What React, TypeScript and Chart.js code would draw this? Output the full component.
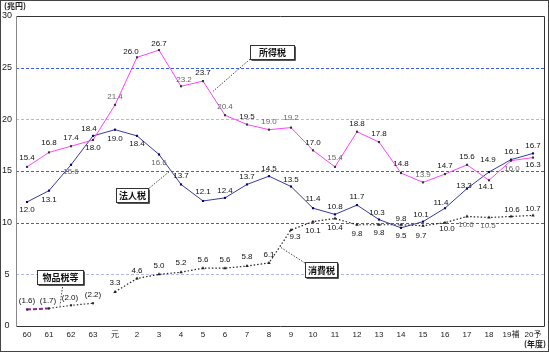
import React, { useEffect, useRef } from "react";
import { Chart, registerables } from "chart.js";

Chart.register(...registerables);

// ---- data ----
const years = ["60", "61", "62", "63", "元", "2", "3", "4", "5", "6", "7", "8", "9", "10", "11", "12", "13", "14", "15", "16", "17", "18", "19補", "20予"];
const incomeTax = [15.4, 16.8, 17.4, 18.0, 21.4, 26.0, 26.7, 23.2, 23.7, 20.4, 19.5, 19.0, 19.2, 17.0, 15.4, 18.8, 17.8, 14.8, 13.9, 14.7, 15.6, 14.1, 16.0, 16.3];
const corporateTax = [12.0, 13.1, 15.6, 18.4, 19.0, 18.4, 16.6, 13.7, 12.1, 12.4, 13.7, 14.5, 13.5, 11.4, 10.8, 11.7, 10.3, 9.5, 10.1, 11.4, 13.3, 14.9, 16.1, 16.7];
const commodityTax = [1.6, 1.7, 2.0, 2.2];
const consumptionTax = [3.3, 4.6, 5.0, 5.2, 5.6, 5.6, 5.8, 6.1, 9.3, 10.1, 10.4, 9.8, 9.8, 9.8, 9.7, 10.0, 10.6, 10.5, 10.6, 10.7];
const yMin = 0;
const yMax = 30;
const yStep = 5;
const unitLabel = "(兆円)";
const yearLabel = "(年度)";

// ---- label placement (style) ----
const incomeLabelOffsets = [[0, -9], [0, -10], [0, -8], [0, 8], [0, -8], [-6, -6], [0, -6], [3, -6], [0, -8], [0, -8], [0, -8], [0, -8], [0, -10], [0, -8], [0, -9], [0, -8], [0, -8], [0, -9], [0, -8], [0, -8], [0, -8], [-3, 6], [1, 8], [0, 7]];
const corporateLabelOffsets = [[0, 8], [0, 9], [0, 7], [-4, -7], [0, 9], [0, 8], [0, 8], [0, -9], [0, -9], [0, -7], [0, -8], [0, -7], [0, -7], [0, -9], [0, -8], [0, -8], [-2, -7], [0, 8], [-2, -7], [-4, -5], [-3, -3], [-1, -12], [1, -8], [0, -8]];
const commodityLabelOffsets = [[0, -9], [-1, -8], [-1, -8], [0, -8]];
const consumptionLabelOffsets = [[0, -9], [0, -8], [0, -9], [0, -9], [0, -8], [0, -8], [0, -9], [0, -8], [4, 7], [0, 9], [0, 9], [0, 9], [0, 8], [0, -6], [-2, 10], [2, 6], [-1, 8], [-1, 8], [1, -7], [0, -7]];
const incomeGray = [4, 7, 9, 11, 12, 14, 18, 22];
const corporateGray = [2, 6];
const consumptionGray = [20, 21];

const pad = (n: number) => Array(n).fill(null);

const callouts = [
  { text: "所得税", cx: 11.14, cy: 26.5, w: 44, h: 14, sx: -22, sy: 7, tx: 8.45, ty: 22.7 },
  { text: "法人税", cx: 4.77, cy: 12.68, w: 32, h: 14, sx: 15, sy: -5, tx: 6.5, ty: 15.0 },
  { text: "物品税等", cx: 1.5, cy: 4.74, w: 46, h: 14, sx: 3, sy: 7, tx: 1.5, ty: 2.0 },
  { text: "消費税", cx: 13.36, cy: 5.42, w: 32, h: 15, sx: -16, sy: -7, tx: 11.5, ty: 7.65 },
];

const LATIN = "'Liberation Sans', 'Noto Sans CJK JP', sans-serif";
const CJK = "'Noto Sans CJK JP', sans-serif";

export default function App() {
  const ref = useRef<HTMLCanvasElement | null>(null);

  useEffect(() => {
    document.body.style.margin = "0";
    const canvas = ref.current!;

    const bgPlugin = {
      id: "bgAndGrid",
      beforeDraw(chart: any) {
        const c = chart.ctx;
        c.save();
        c.fillStyle = "#ffffff";
        c.fillRect(0, 0, chart.width, chart.height);
        c.restore();
      },
      beforeDatasetsDraw(chart: any) {
        const c = chart.ctx;
        const ys = chart.scales.y;
        const a = chart.chartArea;
        c.save();
        c.lineWidth = 1;
        c.setLineDash([3, 2]);
        for (let v = yMin + yStep; v < yMax; v += yStep) {
          const py = Math.round(ys.getPixelForValue(v)) + 0.5;
          c.strokeStyle = v === 20 || v === 5 ? "#aeb8f2" : "#3a5cf2";
          c.beginPath();
          c.moveTo(a.left, py);
          c.lineTo(a.right, py);
          c.stroke();
        }
        c.restore();
      },
    };

    const labelPlugin = {
      id: "valueLabels",
      afterDatasetsDraw(chart: any) {
        const c = chart.ctx;
        c.save();
        c.font = `8px ${LATIN}`;
        c.textAlign = "center";
        c.textBaseline = "middle";
        chart.data.datasets.forEach((ds: any, di: number) => {
          const meta = chart.getDatasetMeta(di);
          meta.data.forEach((pt: any, i: number) => {
            const v = ds.data[i];
            if (v == null) return;
            const k = i - ds.base;
            const off = ds.labelOffsets[k] || [0, -8];
            c.fillStyle = ds.grayLabels.includes(i) ? "#666" : "#111";
            const s = ds.paren ? `(${v.toFixed(1)})` : v.toFixed(1);
            c.fillText(s, pt.x + off[0], pt.y + off[1]);
          });
        });
        c.restore();
      },
    };

    const framePlugin = {
      id: "frameAndCallouts",
      afterDraw(chart: any) {
        const c = chart.ctx;
        const xs = chart.scales.x;
        const ys = chart.scales.y;
        const a = chart.chartArea;
        const xp = (xi: number) => xs.getPixelForValue(0) + xi * (xs.getPixelForValue(1) - xs.getPixelForValue(0));
        const yp = (v: number) => ys.getPixelForValue(v);
        c.save();
        // chart box
        c.lineWidth = 1;
        c.setLineDash([]);
        c.strokeStyle = "#333";
        c.beginPath();
        c.moveTo(a.left + 0.5, a.top + 0.5);
        c.lineTo(a.right + 0.5, a.top + 0.5);
        c.lineTo(a.right + 0.5, a.bottom + 0.5);
        c.lineTo(a.left + 0.5, a.bottom + 0.5);
        c.stroke();
        c.strokeStyle = "#888";
        c.beginPath();
        c.moveTo(a.left + 0.5, a.top + 0.5);
        c.lineTo(a.left + 0.5, a.bottom + 0.5);
        c.stroke();
        // outer frame
        c.strokeStyle = "#444";
        c.strokeRect(0.5, 0.5, chart.width - 1, chart.height - 1);

        // callouts
        callouts.forEach((co) => {
          const cx = xp(co.cx);
          const cy = yp(co.cy);
          const bx = Math.round(cx - co.w / 2) + 0.5;
          const by = Math.round(cy - co.h / 2) + 0.5;
          c.setLineDash([1.5, 1.5]);
          c.strokeStyle = "#444";
          c.lineWidth = 1;
          c.beginPath();
          c.moveTo(cx + co.sx, cy + co.sy);
          c.lineTo(xp(co.tx), yp(co.ty));
          c.stroke();
          c.setLineDash([]);
          c.fillStyle = "#fff";
          c.fillRect(bx, by, co.w, co.h);
          c.strokeStyle = "#333";
          c.strokeRect(bx, by, co.w, co.h);
          c.strokeStyle = "#555";
          c.beginPath();
          c.moveTo(bx + 1, by + co.h + 1);
          c.lineTo(bx + co.w + 1, by + co.h + 1);
          c.lineTo(bx + co.w + 1, by + 1);
          c.stroke();
          c.fillStyle = "#111";
          c.font = `bold 9px ${CJK}`;
          c.textAlign = "center";
          c.textBaseline = "middle";
          c.fillText(co.text, bx + co.w / 2, by + co.h / 2 + 0.5);
        });

        // unit labels
        c.fillStyle = "#222";
        c.font = `bold 8px ${CJK}`;
        c.textAlign = "center";
        c.textBaseline = "middle";
        c.fillText(unitLabel, 15, 6);
        c.fillText(yearLabel, 535, 344);
        c.restore();
      },
    };

    const chart = new Chart(canvas, {
      type: "line",
      data: {
        labels: years,
        datasets: [
          {
            label: "所得税",
            data: incomeTax,
            borderColor: "#ff44ff",
            borderWidth: 1,
            pointStyle: "rect",
            pointRadius: 1.5,
            pointBackgroundColor: "#333",
            pointBorderColor: "#333",
            pointBorderWidth: 0,
            tension: 0,
            base: 0,
            labelOffsets: incomeLabelOffsets,
            grayLabels: incomeGray,
            paren: false,
          } as any,
          {
            label: "法人税",
            data: corporateTax,
            borderColor: "#3a3a9a",
            borderWidth: 1,
            pointStyle: "rect",
            pointRadius: 1.5,
            pointBackgroundColor: "#000080",
            pointBorderColor: "#000080",
            pointBorderWidth: 0,
            tension: 0,
            base: 0,
            labelOffsets: corporateLabelOffsets,
            grayLabels: corporateGray,
            paren: false,
          } as any,
          {
            label: "物品税等",
            data: [...commodityTax, ...pad(years.length - commodityTax.length)],
            borderColor: "#333",
            borderWidth: 1,
            segment: {
              borderDash: (ctx: any) => (ctx.p0DataIndex === 0 ? [4, 2] : [1.5, 2]),
              borderColor: (ctx: any) => (ctx.p0DataIndex === 0 ? "#8a2a8a" : "#333"),
              borderWidth: (ctx: any) => (ctx.p0DataIndex === 0 ? 2 : 1.2),
            },
            pointStyle: "rect",
            pointRadius: 1.5,
            pointBackgroundColor: "#402040",
            pointBorderColor: "#402040",
            pointBorderWidth: 0,
            spanGaps: false,
            tension: 0,
            base: 0,
            labelOffsets: commodityLabelOffsets,
            grayLabels: [],
            paren: true,
          } as any,
          {
            label: "消費税",
            data: [...pad(years.length - consumptionTax.length), ...consumptionTax],
            borderColor: "#222",
            borderWidth: 1.2,
            borderDash: [1.5, 2],
            pointStyle: "triangle",
            pointRadius: 2,
            pointBackgroundColor: "#222",
            pointBorderColor: "#222",
            pointBorderWidth: 0,
            spanGaps: false,
            tension: 0,
            base: years.length - consumptionTax.length,
            labelOffsets: consumptionLabelOffsets,
            grayLabels: consumptionGray,
            paren: false,
          } as any,
        ],
      },
      options: {
        responsive: false,
        animation: false,
        devicePixelRatio: 1,
        layout: { padding: { left: 0, right: 5, top: 16, bottom: 0 } },
        plugins: {
          legend: { display: false },
          tooltip: { enabled: false },
        },
        scales: {
          x: {
            type: "category",
            offset: true,
            grid: { display: false, drawTicks: false },
            border: { display: false },
            ticks: {
              autoSkip: false,
              maxRotation: 0,
              minRotation: 0,
              padding: 4,
              color: "#222",
              font: { size: 8, family: LATIN },
            },
            afterFit: (s: any) => {
              s.height = 26;
            },
          },
          y: {
            min: yMin,
            max: yMax,
            grid: { display: false, drawTicks: false },
            border: { display: false },
            ticks: {
              stepSize: yStep,
              padding: 4,
              crossAlign: "center",
              color: "#222",
              font: { size: 9, family: LATIN },
            },
            afterFit: (s: any) => {
              s.width = 16;
            },
          },
        },
      } as any,
      plugins: [bgPlugin, labelPlugin, framePlugin],
    });

    return () => chart.destroy();
  }, []);

  return (
    <div style={{ width: 549, height: 352 }}>
      <canvas ref={ref} width={549} height={352} style={{ display: "block", width: 549, height: 352 }} />
    </div>
  );
}
